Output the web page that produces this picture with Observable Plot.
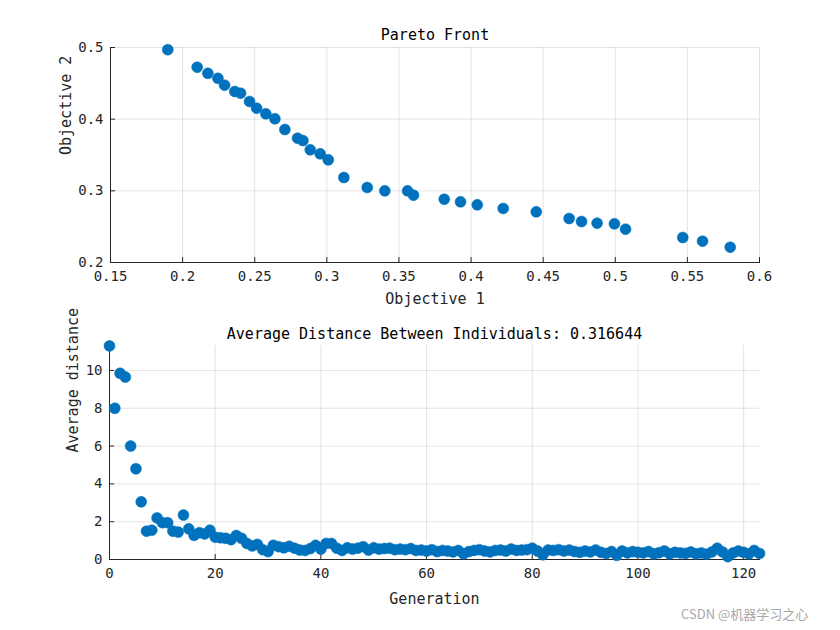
<!DOCTYPE html>
<html><head><meta charset="utf-8">
<script src="https://cdn.jsdelivr.net/npm/d3@7"></script>
<script src="https://cdn.jsdelivr.net/npm/@observablehq/plot@0.6"></script>
<style>
body{margin:0;background:#fff;}
#wrap{position:relative;width:840px;height:630px;background:#fff;}
svg{display:block}
.wm{position:absolute;left:681px;top:604px;font:13px "Noto Sans CJK SC";color:#a8a8a8;white-space:nowrap}
</style>
</head><body><div id="wrap"></div>
<script>
// Pareto front (Objective 1, Objective 2)
const obj1 = [0.1897,0.2101,0.2175,0.2245,0.2291,0.2362,0.2402,0.2464,0.2513,0.2577,0.2640,0.2709,0.2797,0.2834,0.2885,0.2954,0.3010,0.3118,0.3280,0.3402,0.3560,0.3601,0.3814,0.3927,0.4043,0.4223,0.4452,0.4680,0.4766,0.4874,0.4994,0.5071,0.5468,0.5605,0.5797];
const obj2 = [0.497,0.4725,0.464,0.457,0.4474,0.4386,0.4362,0.4247,0.4153,0.4075,0.4005,0.3856,0.3735,0.3702,0.3573,0.3517,0.3433,0.3186,0.3047,0.3000,0.3000,0.2939,0.2883,0.2847,0.2805,0.2754,0.2707,0.2614,0.2572,0.2549,0.2540,0.2465,0.2349,0.2297,0.2213];
const obj1Ticks = [0.15,0.2,0.25,0.3,0.35,0.4,0.45,0.5,0.55,0.6];
const obj2Ticks = [0.2,0.3,0.4,0.5];

// Average distance per generation (generation 0..123)
const avgDistance = [11.3,8.0,9.85,9.65,6.0,4.8,3.05,1.5,1.55,2.2,
 1.95,1.95,1.5,1.45,2.35,1.62,1.28,1.42,1.35,1.55,
 1.18,1.15,1.12,1.05,1.27,1.12,0.85,0.72,0.8,0.52,
 0.42,0.75,0.68,0.62,0.7,0.6,0.5,0.48,0.58,0.75,
 0.55,0.85,0.85,0.6,0.48,0.62,0.55,0.6,0.68,0.5,
 0.62,0.55,0.58,0.6,0.52,0.55,0.52,0.58,0.48,0.5,
 0.45,0.52,0.42,0.48,0.45,0.4,0.48,0.3,0.42,0.48,
 0.52,0.45,0.4,0.48,0.5,0.45,0.55,0.48,0.5,0.52,
 0.6,0.45,0.25,0.5,0.48,0.52,0.45,0.5,0.42,0.38,
 0.45,0.4,0.5,0.38,0.32,0.42,0.22,0.45,0.35,0.42,
 0.38,0.35,0.42,0.3,0.36,0.45,0.3,0.38,0.35,0.32,
 0.4,0.3,0.35,0.28,0.4,0.6,0.4,0.15,0.35,0.45,
 0.38,0.3,0.48,0.32];
const generations = avgDistance.map((_, i) => i);
const genTicks = [0,20,40,60,80,100,120];
const distTicks = [0,2,4,6,8,10];

const titleTop = "Pareto Front";
const titleBottom = "Average Distance Between Individuals: 0.316644";

const font = "DejaVu Sans Mono";
const blue = "#0072BD";
const gridStyle = {stroke:"#000", strokeOpacity:0.14, strokeWidth:0.8};

const pareto = obj1.map((x, i) => ({x, y: obj2[i]}));
const dist = generations.map((g, i) => ({g, d: avgDistance[i]}));

const topPlot = Plot.plot({
  width:840, height:315, marginTop:47, marginBottom:53, marginLeft:110, marginRight:81,
  style:{fontFamily:font, fontSize:"14px", color:"#262626", background:"white", overflow:"visible"},
  x:{domain:[0.15,0.6], label:null},
  y:{domain:[0.2,0.5], label:null},
  marks:[
    Plot.gridX(obj1Ticks, gridStyle),
    Plot.gridY(obj2Ticks, gridStyle),
    Plot.axisX(obj1Ticks, {tickSize:-5, tickPadding:14, tickFormat:d=>String(d), fontSize:14}),
    Plot.axisY(obj2Ticks, {tickSize:-5, tickPadding:12, tickFormat:d=>String(d), fontSize:14}),
    Plot.frame({anchor:"bottom", stroke:"#262626"}),
    Plot.frame({anchor:"left", stroke:"#262626"}),
    Plot.dot(pareto, {x:"x", y:"y", r:5.5, fill:blue, stroke:blue, strokeWidth:0.5}),
    Plot.text([titleTop], {frameAnchor:"top", dy:-18, fontSize:15, fill:"#000"}),
    Plot.text(["Objective 1"], {frameAnchor:"bottom", dy:41, fontSize:15, fill:"#262626"}),
    Plot.text(["Objective 2"], {frameAnchor:"left", dx:-44, rotate:-90, fontSize:15, fill:"#262626"})
  ]
});

const botPlot = Plot.plot({
  width:840, height:315, marginTop:30, marginBottom:71, marginLeft:109, marginRight:81,
  style:{fontFamily:font, fontSize:"14px", color:"#262626", background:"white", overflow:"visible"},
  x:{domain:[0,123], label:null},
  y:{domain:[0,11.32], label:null},
  marks:[
    Plot.gridX(genTicks, gridStyle),
    Plot.gridY(distTicks, gridStyle),
    Plot.axisX(genTicks, {tickSize:-5, tickPadding:14, fontSize:14}),
    Plot.axisY(distTicks, {tickSize:-5, tickPadding:12, fontSize:14}),
    Plot.frame({anchor:"bottom", stroke:"#262626"}),
    Plot.frame({anchor:"left", stroke:"#262626"}),
    Plot.dot(dist, {x:"g", y:"d", r:5.5, fill:blue, stroke:blue, strokeWidth:0.5}),
    Plot.text([titleBottom], {frameAnchor:"top", dy:-17, fontSize:15, fill:"#000"}),
    Plot.text(["Generation"], {frameAnchor:"bottom", dy:44, fontSize:15, fill:"#262626"}),
    Plot.text(["Average distance"], {frameAnchor:"left", dx:-36, rotate:-90, fontSize:15, fill:"#262626"})
  ]
});

const wrap = document.getElementById("wrap");
wrap.appendChild(topPlot);
wrap.appendChild(botPlot);
const wm = document.createElement("div");
wm.className = "wm";
wm.textContent = "CSDN @机器学习之心";
wrap.appendChild(wm);
</script>
</body></html>
